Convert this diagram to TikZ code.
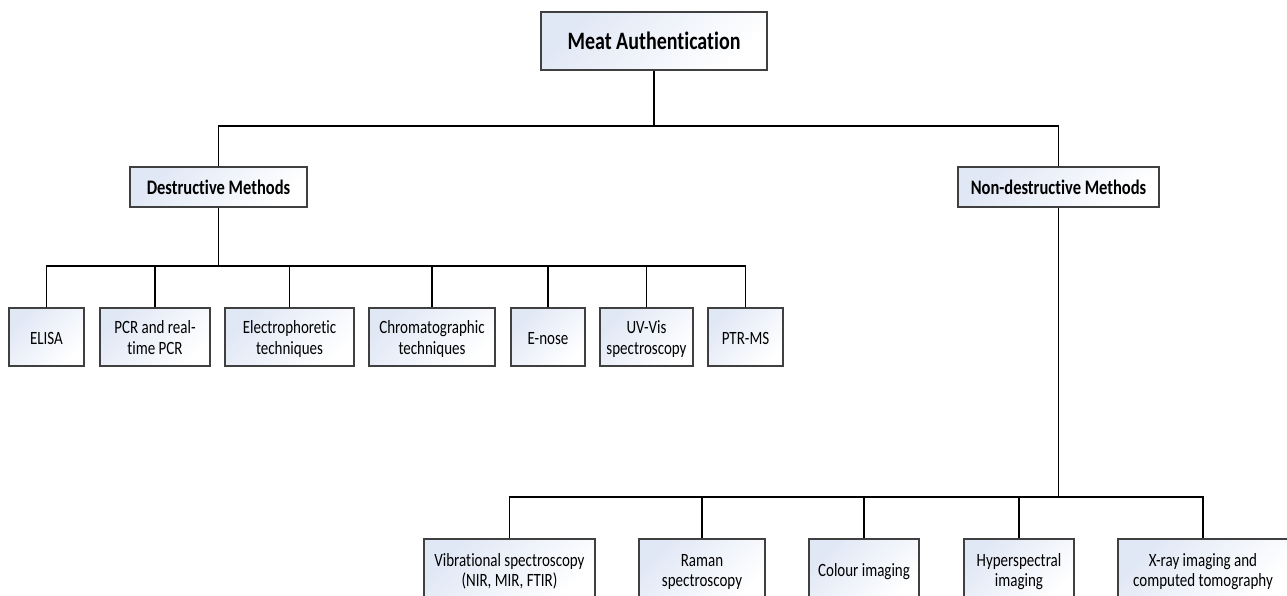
\documentclass[tikz,border=0pt]{standalone}
\usepackage{fontspec}
\setmainfont{Carlito}[Ligatures=NoCommon]
\definecolor{boxtint}{RGB}{224,231,245}
\definecolor{boxedge}{RGB}{64,64,64}
\newcommand\vtxt[1]{\raisebox{-3pt}[\height][\depth]{\scalebox{1}[1.25]{\begin{tabular}{@{}c@{}}#1\end{tabular}}}}
\tikzset{
  box/.style={draw=boxedge, line width=1.3pt, top color=boxtint, bottom color=white, shading angle=45,
    align=center, inner sep=0pt, font=\fontsize{15}{16.5}\selectfont},
  headbox/.style={box, font=\fontsize{16.5}{18}\selectfont\bfseries},
  rootbox/.style={box, font=\fontsize{20}{22}\selectfont\bfseries},
  link/.style={draw=black, line width=1.5pt}
}
\begin{document}
\begin{tikzpicture}[x=1pt,y=-1pt]
\clip (0,0) rectangle (1287,596);
\fill[white] (0,0) rectangle (1287,596);
% nodes
\node[rootbox, minimum width=226pt, minimum height=58pt] (root) at (654,41) {\vtxt{Meat Authentication}};
\node[headbox, minimum width=177pt, minimum height=40pt] (dest) at (218.5,187) {\vtxt{Destructive Methods}};
\node[headbox, minimum width=201pt, minimum height=40pt] (ndest) at (1058.5,187) {\vtxt{Non-destructive Methods}};
% destructive children
\node[box, minimum width=75pt, minimum height=58pt] (elisa) at (46.5,337) {\vtxt{ELISA}};
\node[box, minimum width=110pt, minimum height=58pt] (pcr) at (155,337) {\vtxt{PCR and real-\\time PCR}};
\node[box, minimum width=129pt, minimum height=58pt] (elec) at (289.5,337) {\vtxt{Electrophoretic\\techniques}};
\node[box, minimum width=126pt, minimum height=58pt] (chrom) at (432,337) {\vtxt{Chromatographic\\techniques}};
\node[box, minimum width=74pt, minimum height=58pt] (enose) at (548,337) {\vtxt{E-nose}};
\node[box, minimum width=93pt, minimum height=58pt] (uv) at (646.5,337) {\vtxt{UV-Vis\\spectroscopy}};
\node[box, minimum width=75pt, minimum height=58pt] (ptr) at (745.5,337) {\vtxt{PTR-MS}};
% non-destructive children
\node[box, minimum width=171pt, minimum height=61pt] (vib) at (509.5,569.5) {\vtxt{Vibrational spectroscopy\\(NIR, MIR, FTIR)}};
\node[box, minimum width=126pt, minimum height=61pt] (raman) at (702,569.5) {\vtxt{Raman\\spectroscopy}};
\node[box, minimum width=110pt, minimum height=61pt] (colour) at (864,569.5) {\vtxt{Colour imaging}};
\node[box, minimum width=110pt, minimum height=61pt] (hyper) at (1019,569.5) {\vtxt{Hyperspectral\\imaging}};
\node[box, minimum width=170pt, minimum height=61pt] (xray) at (1203,569.5) {\vtxt{X-ray imaging and\\computed tomography}};
% junctions
\coordinate (j1) at (654,126);
\coordinate (j2) at (218.5,266);
\coordinate (j3) at (1058.5,497);
% connectors
\draw[link] (root.south) -- (j1);
\draw[link] (dest.north) -- (dest.north |- j1) -- (ndest.north |- j1) -- (ndest.north);
\draw[link] (dest.south) -- (j2);
\draw[link] (elisa.north) -- (elisa.north |- j2) -- (ptr.north |- j2) -- (ptr.north);
\foreach \n in {pcr,elec,chrom,enose,uv} \draw[link] (\n.north) -- (\n.north |- j2);
\draw[link] (ndest.south) -- (j3);
\draw[link] (vib.north) -- (vib.north |- j3) -- (xray.north |- j3) -- (xray.north);
\foreach \n in {raman,colour,hyper} \draw[link] (\n.north) -- (\n.north |- j3);
\end{tikzpicture}
\end{document}
